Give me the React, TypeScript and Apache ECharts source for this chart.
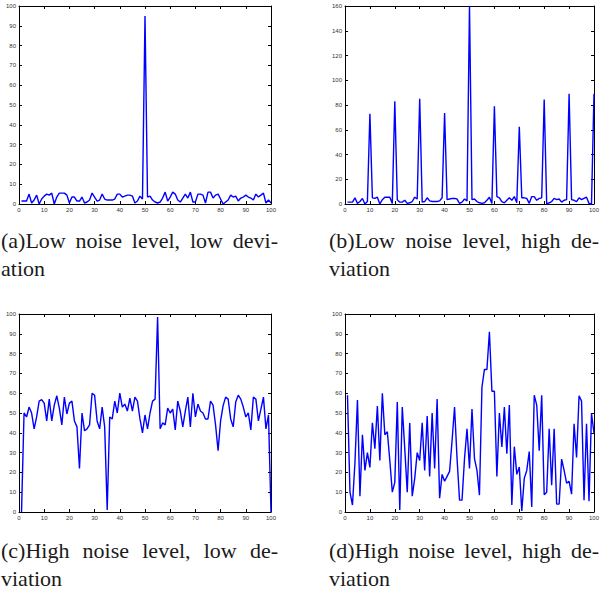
import React, { useEffect, useRef } from "react";
import * as echarts from "echarts";

// (a) low noise level, low deviation
const lowNoiseLowDev = [
  1.5, 1.5, 1.5, 5, 0.5, 2, 4.5, 0, 2.5, 4,
  5, 4.5, 5.5, 0, 3.5, 5.5, 5.5, 5.5, 4.5, 0.5,
  3.5, 3.5, 1.5, 1.5, 3.5, 0.5, 1, 2, 5.5, 3.5,
  1.5, 2, 5, 2.5, 2, 2, 2, 2.5, 5, 5,
  3.5, 4, 4.5, 4.5, 4, 0.5, 1.5, 4, 2.5, 95,
  3.5, 4, 2, 1, 0.5, 1, 3, 6, 1.5, 3.5,
  6, 5, 2, 1, 3, 5, 3, 6, 1, 1,
  5, 5, 4.5, 0.5, 6, 6, 3, 4.5, 5, 2.5,
  0, 1, 2, 4.5, 3.5, 4, 1.5, 3, 3.5, 4.5,
  3.5, 3, 2, 5, 3.5, 4.5, 5.5, 0.5, 2, 0.5,
];

// (b) low noise level, high deviation
const lowNoiseHighDev = [
  1.5, 1.5, 1.5, 5, 0.5, 2, 4.5, 0, 2, 73,
  5, 4.5, 5.5, 0, 3.5, 5.5, 5.5, 5.5, 0.5, 83,
  3.5, 1.5, 1.5, 3, 0.5, 1, 2, 5.5, 4, 85,
  1.5, 2, 5, 2.5, 2, 2, 2, 2.5, 5, 73.5,
  3.5, 4, 4.5, 4.5, 4, 0.5, 1.5, 4, 2.5, 160,
  3.5, 4, 2, 1, 0.5, 1, 3, 5.5, 0.5, 79,
  6, 5, 2, 1, 3, 5, 3, 6, 1, 62.5,
  5, 5, 4.5, 0.5, 6, 6, 3, 4.5, 5, 84.5,
  0, 1, 2, 4.5, 3.5, 4, 1.5, 3, 3.5, 89,
  3.5, 3, 2, 5, 3.5, 4.5, 5.5, 0.5, 0, 89,
];

// (c) high noise level, low deviation
const highNoiseLowDev = [
  0, 50, 48, 53, 50, 42, 48, 56, 56.7, 55,
  46, 57, 46, 54, 58.7, 52.5, 44, 58, 49.5, 55,
  56, 46, 43, 22, 50, 41, 42, 44, 60, 59,
  46, 42, 53, 43, 1, 48, 47, 56, 50, 60,
  53, 54.5, 51, 57.5, 51, 58, 56, 47, 40, 49,
  42, 50, 56, 57, 98.5, 42, 45, 44, 52.5, 50,
  52, 41.5, 56, 51, 43, 51, 58, 43, 60, 48,
  54.5, 51, 50, 47, 47, 56, 54, 44, 31, 46,
  53.7, 58, 57, 47, 43, 55.5, 59, 57, 53, 48,
  50, 41.5, 58, 57, 46, 52, 58, 42, 49, 0,
];

// (d) high noise level, high deviation
const highNoiseHighDev = [
  59, 10, 3.5, 25, 56.5, 8, 39, 21, 30, 22.5,
  45, 32, 53.5, 26, 60, 39, 40.5, 26, 10, 15,
  55.5, 1, 53, 32, 10, 45, 8, 17, 30, 26,
  45, 21, 48.5, 18, 50, 22, 57, 7, 19, 15.5,
  18, 20.5, 36, 53, 27, 6, 6, 27, 42, 22,
  52, 27, 21, 8.5, 63, 72, 72, 91, 61, 61,
  18, 50, 32.8, 53, 29.5, 54, 3.5, 33, 19, 22.7,
  0.5, 17, 21, 30.5, 2.5, 59, 54, 31, 59, 8.7,
  10, 42, 13.5, 42, 4, 4, 26.7, 21, 14.6, 15.5,
  9, 44.5, 27.5, 58.7, 56, 6, 44.6, 5.4, 49.7, 40,
];

const xTickMax = 100;
const xTickStep = 10;
const yMaxA = 100;
const yMaxB = 160;
const yStepA = 10;
const yStepB = 20;

const captionA = ["(a)Low noise level, low devi-", "ation"];
const captionB = ["(b)Low noise level, high de-", "viation"];
const captionC = ["(c)High noise level, low de-", "viation"];
const captionD = ["(d)High noise level, high de-", "viation"];

const panels = [
  { data: lowNoiseLowDev, yMax: yMaxA, yStep: yStepA, caption: captionA },
  { data: lowNoiseHighDev, yMax: yMaxB, yStep: yStepB, caption: captionB },
  { data: highNoiseLowDev, yMax: yMaxA, yStep: yStepA, caption: captionC },
  { data: highNoiseHighDev, yMax: yMaxA, yStep: yStepA, caption: captionD },
];

const CAP_FONT_SIZE = 22;
const CAP_FONT_FAMILY = "'Liberation Serif', 'Times New Roman', serif";

function measure(text: string): number {
  const c = document.createElement("canvas");
  const ctx = c.getContext("2d");
  if (!ctx) return text.length * CAP_FONT_SIZE * 0.45;
  ctx.font = `${CAP_FONT_SIZE}px ${CAP_FONT_FAMILY}`;
  return ctx.measureText(text).width;
}

function justified(text: string, x0: number, x1: number, y: number) {
  const words = text.split(" ");
  const widths = words.map(measure);
  const total = widths.reduce((s, w) => s + w, 0);
  const gap = words.length > 1 ? Math.max(4, (x1 - x0 - total) / (words.length - 1)) : 0;
  let x = x0;
  return words.map((w, i) => {
    const el = {
      type: "text",
      x,
      y,
      style: {
        text: w,
        fill: "#1a1a1a",
        fontSize: CAP_FONT_SIZE,
        fontFamily: CAP_FONT_FAMILY,
        align: "left",
        verticalAlign: "middle",
      },
    };
    x += widths[i] + gap;
    return el;
  });
}

export default function App() {
  const ref = useRef<HTMLDivElement>(null);

  useEffect(() => {
    if (!ref.current) return;
    const chart = echarts.init(ref.current, null, { renderer: "svg" });

    const grids = [
      { left: 19, top: 6, width: 252, height: 198 },
      { left: 345, top: 6, width: 252, height: 198 },
      { left: 19, top: 314, width: 252, height: 198 },
      { left: 345, top: 314, width: 252, height: 198 },
    ];
    const captionPos = [
      { x0: 1, x1: 278, y: 240 },
      { x0: 329, x1: 599, y: 240 },
      { x0: 1, x1: 278, y: 550 },
      { x0: 329, x1: 599, y: 550 },
    ];
    const lineGap = 28;

    const axisLine = { show: true, onZero: false, lineStyle: { color: "#000", width: 1 } };
    const axisTick = { show: true, inside: true, length: 3, lineStyle: { color: "#000", width: 1 } };
    const labelStyle = { fontSize: 6, color: "#333", fontFamily: "Arial, 'Liberation Sans', sans-serif" };

    const xAxis: any[] = [];
    const yAxis: any[] = [];
    const series: any[] = [];
    const graphic: any[] = [];

    panels.forEach((p, i) => {
      const common = { gridIndex: i, type: "value", min: 0, splitLine: { show: false }, axisLine, axisTick };
      xAxis.push({ ...common, max: xTickMax, interval: xTickStep, position: "bottom",
        axisLabel: { ...labelStyle, margin: 3 } });
      xAxis.push({ ...common, max: xTickMax, interval: xTickStep, position: "top",
        axisLabel: { show: false } });
      yAxis.push({ ...common, max: p.yMax, interval: p.yStep, position: "left",
        axisLabel: { ...labelStyle, margin: 3 } });
      yAxis.push({ ...common, max: p.yMax, interval: p.yStep, position: "right",
        axisLabel: { show: false } });
      series.push({
        type: "line",
        xAxisIndex: i * 2,
        yAxisIndex: i * 2,
        data: p.data.map((v, k) => [k + 1, v]),
        showSymbol: false,
        symbol: "none",
        lineStyle: { color: "#0000ff", width: 1.4 },
        clip: false,
      });
      const cp = captionPos[i];
      graphic.push(...justified(p.caption[0], cp.x0, cp.x1, cp.y));
      graphic.push({
        type: "text",
        x: cp.x0,
        y: cp.y + lineGap,
        style: {
          text: p.caption[1],
          fill: "#1a1a1a",
          fontSize: CAP_FONT_SIZE,
          fontFamily: CAP_FONT_FAMILY,
          align: "left",
          verticalAlign: "middle",
        },
      });
    });

    chart.setOption({
      animation: false,
      backgroundColor: "#fff",
      grid: grids.map((g) => ({ ...g, containLabel: false })),
      xAxis,
      yAxis,
      series,
      graphic,
    });

    return () => chart.dispose();
  }, []);

  return (
    <div
      ref={ref}
      style={{ position: "absolute", left: 0, top: 0, width: 602, height: 596 }}
    />
  );
}
